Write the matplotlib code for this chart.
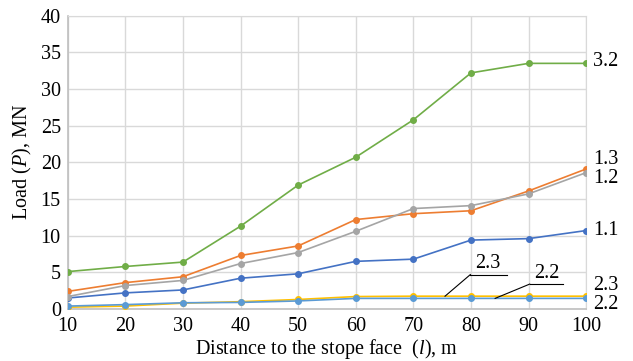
import matplotlib
matplotlib.use("Agg")
import matplotlib.pyplot as plt

plt.rcParams['font.family'] = ['Liberation Serif', 'DejaVu Serif']
plt.rcParams['mathtext.fontset'] = 'custom'
plt.rcParams['mathtext.rm'] = 'Liberation Serif'
plt.rcParams['mathtext.it'] = 'Liberation Serif:italic'

# distance to the stope face, m
distance = [10, 20, 30, 40, 50, 60, 70, 80, 90, 100]

# load values, MN
load_1_1 = [1.5, 2.2, 2.6, 4.2, 4.8, 6.5, 6.8, 9.4, 9.6, 10.7]
load_1_3 = [2.4, 3.6, 4.4, 7.3, 8.6, 12.2, 13.0, 13.4, 16.1, 19.1]
load_1_2 = [1.7, 3.2, 3.9, 6.2, 7.7, 10.6, 13.7, 14.1, 15.7, 18.6]
load_2_3 = [0.25, 0.4, 0.8, 1.0, 1.3, 1.7, 1.75, 1.75, 1.75, 1.75]
load_2_2 = [0.4, 0.6, 0.85, 0.9, 1.1, 1.45, 1.45, 1.45, 1.45, 1.45]
load_3_2 = [5.1, 5.8, 6.4, 11.3, 16.9, 20.7, 25.8, 32.2, 33.5, 33.5]

series = [
    ("1.1", load_1_1, "#4472C4"),
    ("1.3", load_1_3, "#ED7D31"),
    ("1.2", load_1_2, "#A5A5A5"),
    ("2.3", load_2_3, "#FFC000"),
    ("2.2", load_2_2, "#5B9BD5"),
    ("3.2", load_3_2, "#70AD47"),
]

# label positions at right edge (y in data units)
end_labels = {"3.2": 33.7, "1.3": 20.4, "1.2": 17.8, "1.1": 10.7, "2.3": 3.2, "2.2": 0.6}

fig = plt.figure(figsize=(6.33, 3.61), dpi=100)
ax = fig.add_axes([0.107, 0.144, 0.819, 0.8125])

for name, vals, col in series:
    ax.plot(distance, vals, color=col, lw=1.2, marker="o", ms=4, zorder=3)

for name, yv in end_labels.items():
    ax.text(101.2, yv, name, fontsize=14.5, va="center", ha="left", clip_on=False)

# callouts for the two flat lines
ax.plot([79.9, 86.3], [4.7, 4.7], color="black", lw=0.8, zorder=4)
ax.plot([79.9, 75.5], [4.7, 1.75], color="black", lw=0.8, zorder=4)
ax.text(83.0, 4.9, "2.3", fontsize=14.5, ha="center", va="bottom")
ax.plot([90.2, 96.0], [3.4, 3.4], color="black", lw=0.8, zorder=4)
ax.plot([90.2, 84.2], [3.4, 1.45], color="black", lw=0.8, zorder=4)
ax.text(93.1, 3.6, "2.2", fontsize=14.5, ha="center", va="bottom")

ax.set_xlim(10, 100)
ax.set_ylim(0, 40)
ax.set_xticks(distance)
ax.set_yticks(range(0, 41, 5))
ax.tick_params(length=0, labelsize=14.5)
ax.tick_params(axis="x", pad=5.5)
ax.tick_params(axis="y", pad=5)
ax.grid(True, color="#D9D9D9", lw=1)
ax.set_axisbelow(True)
for s in ["top", "right"]:
    ax.spines[s].set_color("#D9D9D9")
for s in ["left", "bottom"]:
    ax.spines[s].set_color("#BFBFBF")
    ax.spines[s].set_linewidth(1.2)

ax.set_xlabel(r"Distance to the stope face  ($\mathit{l}$), m", fontsize=14.5, labelpad=1)
ax.set_ylabel(r"Load ($\mathit{P}$), MN", fontsize=14.5, labelpad=5)

fig.savefig("out.png", dpi=100)
